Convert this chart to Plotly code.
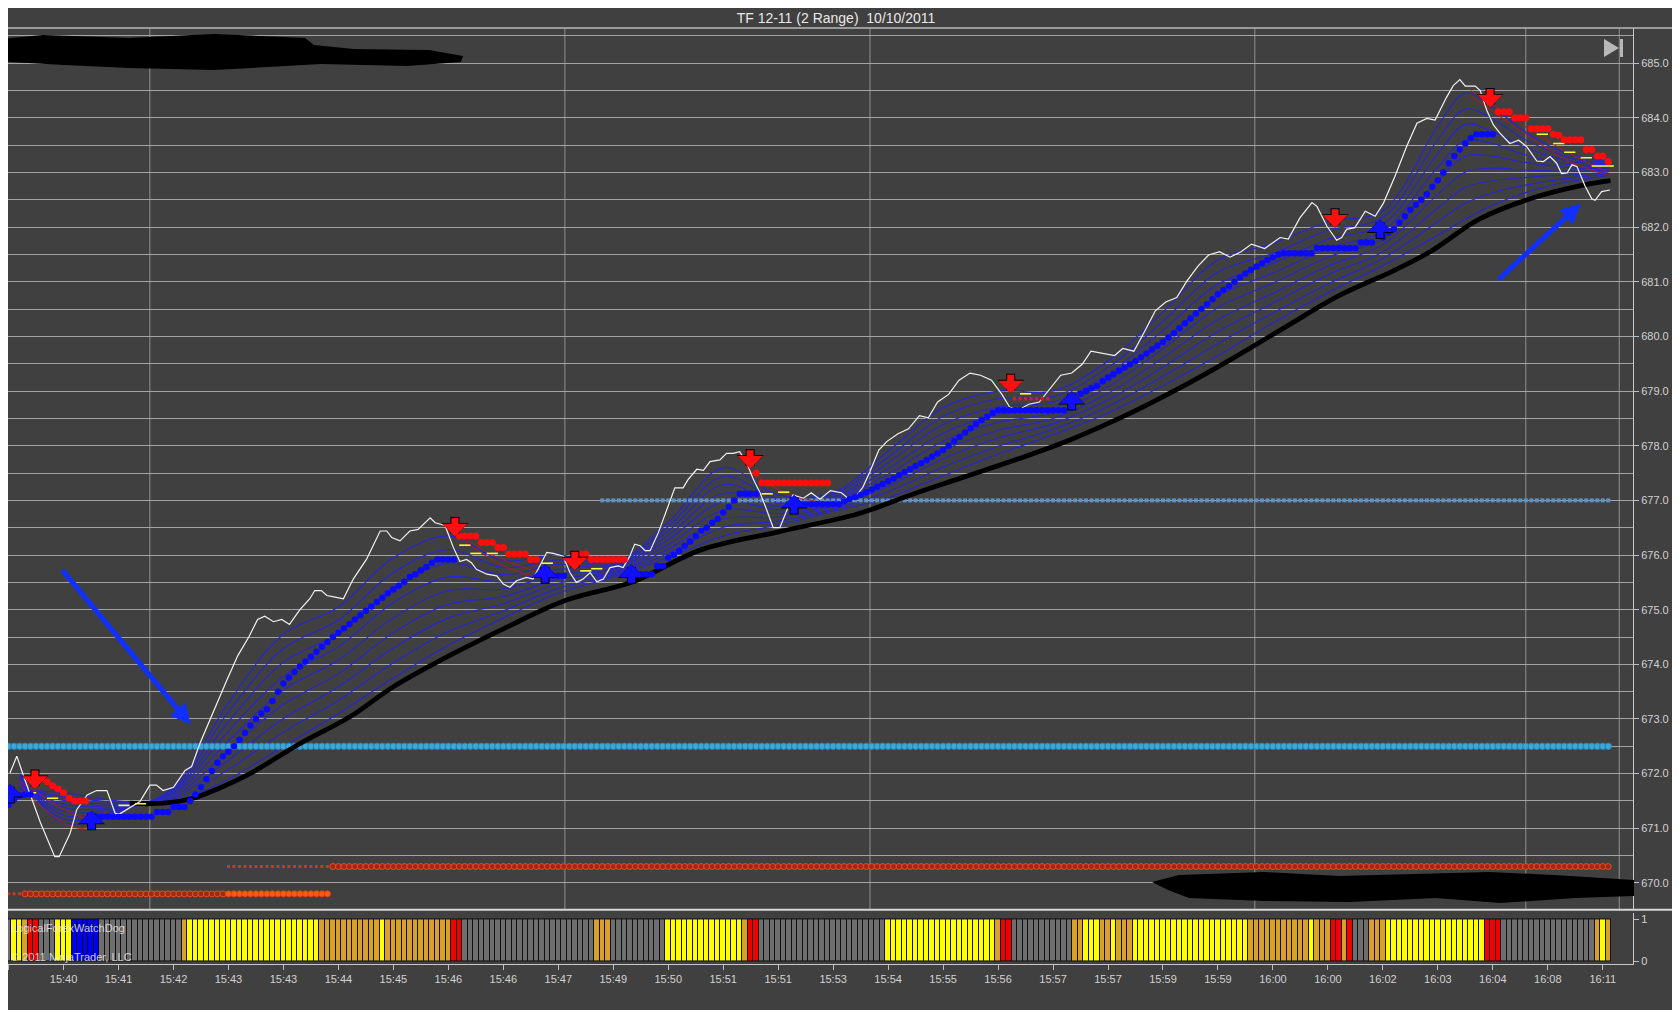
import plotly.graph_objects as go

# ---------------------------------------------------------------- text / axes
TITLE = "TF 12-11 (2 Range)  10/10/2011"
INDICATOR_NAME = "LogicalForexWatchDog"
COPYRIGHT = "© 2011 NinjaTrader, LLC"

TICK_BARS = [0, 10, 20, 30, 40, 50, 60, 70, 80, 90, 100, 110, 120, 130, 140,
             150, 160, 170, 180, 190, 200, 210, 220, 230, 240, 250, 260, 270, 280, 290]
TICK_TEXT = ["15:40", "15:40", "15:41", "15:42", "15:43", "15:43", "15:44", "15:45",
             "15:46", "15:46", "15:47", "15:49", "15:50", "15:51", "15:51", "15:53",
             "15:54", "15:55", "15:56", "15:57", "15:57", "15:59", "15:59", "16:00",
             "16:00", "16:02", "16:03", "16:04", "16:08", "16:11"]
VGRID_BARS = [25.7, 101.2, 156.7, 226.7, 276.0, 293.0]

# ---------------------------------------------------------------- price pane data (bar, price)
PRICE_LINE = [
    (0.25, 672.01), (1.5, 672.32), (3.0, 671.88), (5.8, 671.10), (8.4, 670.48), (9.2, 670.48),
    (11.2, 670.91), (12.4, 671.34), (14.3, 671.61), (16.0, 671.69), (17.9, 671.69), (19.4, 671.27),
    (20.3, 671.27), (23.9, 671.49), (25.7, 671.79), (26.9, 671.79), (28.1, 671.69), (30.0, 671.75),
    (32.1, 672.06), (33.3, 672.13), (34.8, 672.55), (37.3, 673.16), (39.7, 673.71), (41.7, 674.16),
    (43.7, 674.50), (45.3, 674.82), (46.6, 674.88), (48.2, 674.78), (49.7, 674.82), (51.1, 674.73),
    (53.0, 675.00), (54.8, 675.20), (55.7, 675.35), (56.9, 675.35), (57.9, 675.26), (59.4, 675.23),
    (60.9, 675.20), (62.7, 675.56), (65.1, 675.92), (67.6, 676.44), (68.8, 676.44), (69.7, 676.32),
    (71.2, 676.26), (73.0, 676.44), (74.5, 676.47), (76.7, 676.68), (77.6, 676.59), (79.4, 676.54),
    (80.9, 676.14), (82.1, 675.88), (83.3, 675.92), (84.2, 675.86), (85.1, 675.74), (87.0, 675.65),
    (88.8, 675.62), (90.0, 675.47), (91.2, 675.41), (92.4, 675.53), (94.2, 675.59), (95.4, 675.56),
    (96.7, 675.80), (97.9, 676.05), (99.1, 676.03), (100.9, 675.98), (102.1, 675.68), (103.3, 675.50),
    (104.5, 675.56), (105.8, 675.68), (107.0, 675.51), (108.2, 675.56), (109.4, 675.77), (110.9, 675.80),
    (111.8, 675.77), (113.0, 675.98), (113.9, 676.20), (114.9, 676.17), (115.8, 676.08), (116.7, 676.08),
    (118.2, 676.41), (119.7, 676.83), (121.2, 677.23), (122.7, 677.23), (123.6, 677.38), (125.2, 677.57),
    (126.4, 677.55), (127.6, 677.71), (129.4, 677.74), (130.6, 677.86), (131.8, 677.86), (133.0, 677.89),
    (134.3, 677.68), (135.5, 677.38), (136.7, 677.14), (137.9, 676.83), (139.1, 676.50), (140.3, 676.50),
    (142.7, 677.10), (144.6, 677.04), (146.0, 677.14), (147.6, 677.02), (149.5, 677.18), (151.5, 677.14),
    (153.4, 676.98), (155.4, 677.24), (156.7, 677.53), (158.3, 677.92), (159.8, 678.08), (161.8, 678.22),
    (163.7, 678.31), (165.7, 678.55), (167.3, 678.51), (169.0, 678.80), (171.0, 678.94), (172.9, 679.20),
    (174.9, 679.33), (176.8, 679.29), (178.8, 679.20), (180.7, 678.94), (182.1, 678.71), (183.6, 678.65),
    (185.6, 678.76), (187.5, 678.80), (189.5, 679.06), (191.4, 679.29), (193.4, 679.33), (195.3, 679.49),
    (196.9, 679.73), (199.2, 679.69), (201.2, 679.65), (202.7, 679.78), (204.7, 679.73), (206.6, 680.08),
    (208.6, 680.47), (210.5, 680.63), (212.5, 680.71), (214.4, 681.02), (216.4, 681.29), (218.3, 681.49),
    (220.3, 681.55), (222.2, 681.45), (224.2, 681.55), (226.1, 681.69), (228.5, 681.61), (231.3, 681.81),
    (232.8, 681.78), (234.9, 682.17), (237.1, 682.45), (238.0, 682.38), (239.8, 682.02), (241.6, 681.76),
    (242.5, 681.81), (243.4, 681.96), (244.9, 681.99), (246.8, 682.29), (248.6, 682.20), (250.1, 682.44),
    (252.2, 682.93), (254.3, 683.47), (256.2, 683.90), (258.0, 683.99), (259.5, 683.96), (261.6, 684.38),
    (262.8, 684.59), (264.0, 684.70), (265.0, 684.58), (266.8, 684.58), (267.7, 684.50), (268.9, 684.14),
    (270.1, 683.87), (271.3, 683.72), (273.1, 683.53), (274.7, 683.59), (276.2, 683.47), (278.0, 683.21),
    (279.2, 683.20), (280.4, 683.29), (281.6, 683.17), (282.5, 682.98), (283.5, 682.99), (284.4, 683.14),
    (285.3, 683.11), (286.8, 682.75), (288.0, 682.52), (288.6, 682.49), (289.8, 682.65), (291.3, 682.68),
]

BLACK_LINE = [
    (22.0, 671.46), (26.0, 671.45), (30.0, 671.48), (33.6, 671.55), (38.0, 671.72),
    (43.9, 672.00), (53.0, 672.55), (62.1, 673.04), (70.0, 673.59), (80.0, 674.15), (90.0, 674.65),
    (101.6, 675.18), (113.6, 675.51), (125.8, 676.09), (140.3, 676.43), (154.4, 676.75), (164.1, 677.10),
    (173.9, 677.43), (183.7, 677.76), (193.4, 678.12), (203.1, 678.55), (212.9, 679.05), (222.7, 679.60),
    (232.4, 680.18), (242.1, 680.75), (251.9, 681.20), (258.6, 681.55), (267.6, 682.15), (276.8, 682.52),
    (286.0, 682.76), (291.4, 682.85),
]

# the thin blue moving-average fan, one row per sampled bar, nine lines each
FAN_BARS = [2, 10, 20, 30, 40, 50, 60, 70, 80, 90, 100, 110, 120, 130, 140, 150, 160,
            170, 180, 190, 200, 210, 220, 230, 240, 250, 260, 265, 270, 275, 280, 285, 291]
FAN_ROWS = [
    [672.00, 671.96, 671.93, 671.89, 671.85, 671.81, 671.78, 671.74, 671.70],
    [671.10, 671.17, 671.24, 671.31, 671.38, 671.44, 671.51, 671.58, 671.65],
    [671.30, 671.33, 671.35, 671.38, 671.40, 671.43, 671.45, 671.48, 671.50],
    [671.75, 671.72, 671.69, 671.66, 671.63, 671.59, 671.56, 671.53, 671.50],
    [673.30, 673.13, 672.95, 672.78, 672.60, 672.43, 672.25, 672.08, 671.90],
    [674.55, 674.29, 674.04, 673.78, 673.53, 673.27, 673.01, 672.76, 672.50],
    [675.05, 674.81, 674.56, 674.32, 674.08, 673.83, 673.59, 673.34, 673.10],
    [675.95, 675.68, 675.40, 675.13, 674.85, 674.58, 674.30, 674.03, 673.75],
    [676.35, 676.10, 675.85, 675.60, 675.35, 675.10, 674.85, 674.60, 674.35],
    [675.90, 675.77, 675.64, 675.51, 675.38, 675.24, 675.11, 674.98, 674.85],
    [676.00, 675.91, 675.83, 675.74, 675.65, 675.56, 675.48, 675.39, 675.30],
    [675.85, 675.82, 675.79, 675.76, 675.73, 675.69, 675.66, 675.63, 675.60],
    [676.60, 676.52, 676.44, 676.36, 676.28, 676.19, 676.11, 676.03, 675.95],
    [677.60, 677.44, 677.29, 677.13, 676.98, 676.82, 676.66, 676.51, 676.35],
    [677.10, 677.03, 676.96, 676.89, 676.83, 676.76, 676.69, 676.62, 676.55],
    [677.15, 677.11, 677.06, 677.02, 676.98, 676.93, 676.89, 676.84, 676.80],
    [677.90, 677.79, 677.69, 677.58, 677.48, 677.37, 677.26, 677.16, 677.05],
    [678.70, 678.54, 678.39, 678.23, 678.08, 677.92, 677.76, 677.61, 677.45],
    [679.00, 678.86, 678.71, 678.57, 678.43, 678.28, 678.14, 677.99, 677.85],
    [679.00, 678.90, 678.80, 678.70, 678.60, 678.50, 678.40, 678.30, 678.20],
    [679.55, 679.43, 679.31, 679.19, 679.08, 678.96, 678.84, 678.72, 678.60],
    [680.45, 680.28, 680.11, 679.94, 679.78, 679.61, 679.44, 679.27, 679.10],
    [681.40, 681.18, 680.96, 680.74, 680.53, 680.31, 680.09, 679.87, 679.65],
    [681.70, 681.52, 681.34, 681.16, 680.98, 680.79, 680.61, 680.43, 680.25],
    [682.10, 681.94, 681.78, 681.61, 681.45, 681.29, 681.13, 680.96, 680.80],
    [682.30, 682.18, 682.05, 681.93, 681.80, 681.68, 681.55, 681.43, 681.30],
    [683.85, 683.60, 683.35, 683.10, 682.85, 682.60, 682.35, 682.10, 681.85],
    [684.45, 684.16, 683.88, 683.59, 683.30, 683.01, 682.73, 682.44, 682.15],
    [684.20, 683.98, 683.75, 683.53, 683.30, 683.08, 682.85, 682.63, 682.40],
    [683.80, 683.65, 683.50, 683.35, 683.20, 683.05, 682.90, 682.75, 682.60],
    [683.50, 683.41, 683.31, 683.22, 683.13, 683.03, 682.94, 682.84, 682.75],
    [683.30, 683.24, 683.19, 683.13, 683.08, 683.02, 682.96, 682.91, 682.85],
    [683.20, 683.17, 683.14, 683.11, 683.08, 683.04, 683.01, 682.98, 682.95],
]

RED_FAN_LINES = [
    [(2, 671.85), (6, 671.60), (10, 671.35), (14, 671.20), (18, 671.30)],
    [(2, 671.80), (6, 671.40), (10, 671.10), (13, 671.00), (16, 671.05)],
    [(80, 676.50), (88, 676.00), (96, 675.70), (100, 675.60)],
    [(81, 676.40), (90, 675.80), (98, 675.55)],
    [(134, 677.60), (140, 677.20), (146, 677.00), (150, 676.95)],
    [(266, 684.50), (275, 683.90), (283, 683.40), (291, 683.00)],
    [(266, 684.40), (276, 683.70), (284, 683.20), (291, 682.95)],
]

# trailing-stop dots: first bar -> one value per bar
BLUE_DOTS = {
    0: [671.43, 671.53, 671.60, 671.62, 671.62],
    15: [671.21] * 12 + [671.30] * 3 + [671.39] * 3 + [
        671.50, 671.62, 671.75, 671.90, 672.05, 672.20, 672.32, 672.40, 672.50, 672.62,
        672.75, 672.88, 673.00, 673.10, 673.18, 673.33, 673.50, 673.65, 673.76, 673.86,
        673.96, 674.05, 674.14, 674.23, 674.32, 674.41, 674.50, 674.58, 674.66, 674.74,
        674.82, 674.90, 674.98, 675.06, 675.14, 675.22, 675.30, 675.37, 675.44, 675.51,
        675.60, 675.65, 675.72, 675.78, 675.86, 675.92, 675.92, 675.92, 675.92],
    98: [675.62] * 4,
    113: [675.65] * 5 + [675.80, 675.80, 675.95, 676.00, 676.08, 676.17, 676.25, 676.35,
                         676.45, 676.50, 676.59, 676.66, 676.78, 676.88, 677.00] + [677.12] * 4,
    143: [676.93] * 9 + [676.98, 677.02, 677.06, 677.10, 677.15, 677.20, 677.25, 677.30,
                         677.35, 677.40, 677.46, 677.52, 677.57, 677.63, 677.68, 677.74,
                         677.80, 677.86, 677.92, 678.00, 678.08, 678.16, 678.24, 678.32,
                         678.40, 678.47, 678.53, 678.60] + [678.65] * 13,
    194: [678.85, 678.95, 679.00, 679.05, 679.10, 679.18, 679.25, 679.31, 679.37, 679.43,
          679.49, 679.55, 679.62, 679.69, 679.76, 679.83, 679.90, 679.98, 680.06, 680.15,
          680.24, 680.33, 680.42, 680.50, 680.59, 680.68, 680.77, 680.85, 680.92, 681.00,
          681.08, 681.15, 681.22, 681.28, 681.34, 681.40, 681.45, 681.50]
         + [681.52] * 6 + [681.62] * 8 + [681.72] * 3,
    250: [681.81, 681.90, 681.96, 682.08, 682.20, 682.32, 682.41, 682.50, 682.60, 682.74,
          682.86, 683.00, 683.17, 683.30, 683.42, 683.53, 683.63, 683.70, 683.70, 683.70, 683.70],
}
RED_DOTS = {
    5: [671.92, 671.90, 671.85, 671.78, 671.72, 671.65, 671.55, 671.50, 671.50, 671.50],
    82: [676.35, 676.35, 676.35, 676.35, 676.23, 676.23, 676.23, 676.14, 676.14,
         676.02, 676.02, 676.02, 676.02, 675.92, 675.92],
    103: [676.02, 676.02, 676.02] + [675.92] * 7,
    136: [677.50] + [677.32] * 13,
    271: [684.11, 684.11, 684.11, 684.00, 684.00, 684.00, 683.80, 683.80, 683.80, 683.80,
          683.70, 683.68, 683.60, 683.60, 683.60, 683.60, 683.42, 683.42, 683.30, 683.30, 683.20],
}
SMALL_RED_DOTS = {183: [678.86] * 7}

YELLOW_DASHES = [(4, 671.65), (8, 671.55), (21, 671.42), (24, 671.45), (83, 676.18), (85, 676.03),
                 (88, 676.03), (98, 675.85), (105, 675.71), (107, 675.75), (138, 677.12),
                 (141, 677.15), (185, 678.95), (279, 683.70), (282, 683.53), (284, 683.37),
                 (287, 683.27), (289, 683.12), (291, 683.12)]

# signal arrows: (bar, price of the arrow tip)
SIGNAL_DOWN = [(4.8, 671.72), (81.2, 676.34), (103.0, 675.72), (134.9, 677.58),
               (182.3, 678.96), (241.3, 681.99), (269.5, 684.19)]
SIGNAL_UP = [(0.3, 671.81), (15.1, 671.32), (97.6, 675.83), (113.3, 675.83),
             (142.9, 677.10), (193.4, 679.00), (249.5, 682.14)]

# hand drawn arrows: (tail bar, tail price), (tip bar, tip price)
NOTE_ARROWS = [((9.55, 675.75), (33.1, 672.90)), ((270.8, 681.02), (286.0, 682.43))]

# horizontal levels: price, bar spans
LEVEL_CYAN = (672.5, 0, 291)
LEVEL_STEEL = (677.0, 108, 291)
LEVEL_RED_UPPER = (670.3, 40, 59, 291)        # small dots from, rings from, last bar
LEVEL_RED_LOWER = (669.8, 0, 3, 40, 58)       # small dots from, rings from, filled from, last bar

# ---------------------------------------------------------------- lower pane (state per bar, run lengths)
SIGNAL_RUNS = [("G", 1), ("Y", 2), ("O", 1), ("R", 2), ("G", 3), ("Y", 3), ("B", 5), ("G", 15),
               ("O", 1), ("Y", 24), ("O", 11), ("Y", 1), ("O", 12), ("R", 2), ("G", 24), ("O", 3),
               ("G", 10), ("Y", 14), ("O", 1), ("R", 2), ("G", 23), ("Y", 20), ("O", 1), ("R", 2),
               ("G", 11), ("O", 2), ("Y", 3), ("O", 2), ("Y", 1), ("O", 3), ("Y", 21), ("O", 11),
               ("Y", 1), ("O", 3), ("R", 2), ("O", 1), ("R", 1), ("G", 3), ("O", 3), ("Y", 18),
               ("R", 3), ("G", 17), ("O", 1), ("Y", 1), ("O", 1)]
STATE_COLORS = {"G": "#6e6e6e", "Y": "#ffff00", "O": "#d8a02c", "R": "#f00000", "B": "#0000f0"}

# ---------------------------------------------------------------- page geometry
# the page body keeps its default 8px margin, so the figure is drawn 8px smaller
# and all page-pixel positions below are shifted by that margin
PAGE_W, PAGE_H, BODY = 1680, 1010, 8
FIG_W, FIG_H = PAGE_W - BODY, PAGE_H - BODY
PLOT_L, PLOT_R, PLOT_T, PLOT_B = 8, 1633, 28, 964     # page pixels
X_RANGE = [-0.104, 295.5]
BG = "#404040"
FONT = "Liberation Sans, Arial, sans-serif"
TXT = "#d2d2d2"

REDACT_TOP = [(0, 39), (43, 35), (129, 38), (214, 34), (305, 38), (314, 45), (354, 49), (429, 50),
              (463, 56), (461, 62), (407, 66), (321, 64), (214, 70), (129, 68), (64, 65), (11, 62), (0, 60)]
REDACT_BOTTOM = [(1152, 882), (1179, 875), (1264, 872), (1339, 876), (1414, 874), (1489, 872),
                 (1554, 875), (1634, 880), (1634, 896), (1575, 898), (1500, 903), (1436, 898),
                 (1350, 902), (1264, 901), (1189, 898), (1168, 890)]


def toPaper(px, py):
    return (px - PLOT_L) / (PLOT_R - PLOT_L), (PLOT_B - py) / (PLOT_B - PLOT_T)


def pathFromPixels(points):
    parts = []
    for i, (px, py) in enumerate(points):
        x, y = toPaper(px, py)
        parts.append(("M" if i == 0 else "L") + "%.5f,%.5f" % (x, y))
    return " ".join(parts) + " Z"


def expandDots(segments):
    xs, ys = [], []
    for start, vals in segments.items():
        for i, v in enumerate(vals):
            xs.append(start + i)
            ys.append(v)
    return xs, ys


def lineTrace(points, color, width, shape="linear"):
    return go.Scatter(x=[p[0] for p in points], y=[p[1] for p in points], mode="lines",
                      line=dict(color=color, width=width, shape=shape),
                      hoverinfo="skip", showlegend=False)


def levelTrace(price, first, last, marker):
    bars = list(range(first, last + 1))
    return go.Scatter(x=bars, y=[price] * len(bars), mode="markers", marker=marker,
                      hoverinfo="skip", showlegend=False)


fig = go.Figure()

# lower pane state bars
states = []
for code, n in SIGNAL_RUNS:
    states += [code] * n
fig.add_trace(go.Bar(x=list(range(len(states))), y=[1] * len(states), base=0, width=1.0,
                     marker=dict(color=[STATE_COLORS[s] for s in states], line=dict(color="#101010", width=1)),
                     yaxis="y2", hoverinfo="skip", showlegend=False))

# blue fan
for k in range(len(FAN_ROWS[0])):
    pts = [(b, row[k]) for b, row in zip(FAN_BARS, FAN_ROWS)]
    fig.add_trace(lineTrace(pts, "rgba(36,36,215,1)", 1.1, "spline"))

# horizontal dotted levels
ringRed = dict(symbol="circle", size=6, color="#9c2a14", line=dict(color="#f04a22", width=1))
smallRed = dict(symbol="square", size=3, color="#c83a22")
fig.add_trace(levelTrace(LEVEL_CYAN[0], LEVEL_CYAN[1], LEVEL_CYAN[2],
                         dict(symbol="circle", size=6.5, color="#3ba8d8", line=dict(color="#2a80b0", width=1))))
fig.add_trace(levelTrace(LEVEL_STEEL[0], LEVEL_STEEL[1], LEVEL_STEEL[2],
                         dict(symbol="square", size=4, color="#5f90c2")))
fig.add_trace(levelTrace(LEVEL_RED_UPPER[0], LEVEL_RED_UPPER[1], LEVEL_RED_UPPER[2] - 1, smallRed))
fig.add_trace(levelTrace(LEVEL_RED_UPPER[0], LEVEL_RED_UPPER[2], LEVEL_RED_UPPER[3], ringRed))
fig.add_trace(levelTrace(LEVEL_RED_LOWER[0], LEVEL_RED_LOWER[1], LEVEL_RED_LOWER[2] - 1, smallRed))
fig.add_trace(levelTrace(LEVEL_RED_LOWER[0], LEVEL_RED_LOWER[2], LEVEL_RED_LOWER[3] - 1, ringRed))
fig.add_trace(levelTrace(LEVEL_RED_LOWER[0], LEVEL_RED_LOWER[3], LEVEL_RED_LOWER[4],
                         dict(symbol="circle", size=6, color="#ff5a14", line=dict(color="#e84010", width=1))))

# slow average, red fan pieces, price
fig.add_trace(lineTrace(BLACK_LINE, "#000000", 4.8, "spline"))
for seg in RED_FAN_LINES:
    fig.add_trace(lineTrace(seg, "#b01c1c", 1, "spline"))
fig.add_trace(lineTrace(PRICE_LINE, "#f2f2f2", 1.2))

fig.add_trace(go.Scatter(x=[p[0] for p in YELLOW_DASHES], y=[p[1] for p in YELLOW_DASHES], mode="markers",
                         marker=dict(symbol="line-ew", size=8, line=dict(color="#ffff30", width=1.6)),
                         hoverinfo="skip", showlegend=False))

bx, by = expandDots(BLUE_DOTS)
fig.add_trace(go.Scatter(x=bx, y=by, mode="markers", marker=dict(symbol="circle", size=6.5, color="#0a0aff"),
                         hoverinfo="skip", showlegend=False))
rx, ry = expandDots(RED_DOTS)
fig.add_trace(go.Scatter(x=rx, y=ry, mode="markers", marker=dict(symbol="circle", size=7, color="#ff0c0c"),
                         hoverinfo="skip", showlegend=False))
sx, sy = expandDots(SMALL_RED_DOTS)
fig.add_trace(go.Scatter(x=sx, y=sy, mode="markers", marker=dict(symbol="square", size=3.5, color="#e01818"),
                         hoverinfo="skip", showlegend=False))

# ---------------------------------------------------------------- annotations
notes = []
for (tb, tp), (hb, hp) in NOTE_ARROWS:
    notes.append(dict(x=hb, y=hp, ax=tb, ay=tp, xref="x", yref="y", axref="x", ayref="y", text="",
                      showarrow=True, arrowhead=2, arrowsize=0.8, arrowwidth=5, arrowcolor="#1030ff"))


def signalArrow(bar, price, up, color):
    direction = 1 if up else -1
    out = []
    out.append(dict(x=bar, y=price, xref="x", yref="y", ax=0, ay=21 * direction, text="",
                    showarrow=True, arrowhead=1, arrowsize=0.5, arrowwidth=9, arrowcolor="#000000"))
    out.append(dict(x=bar, y=price, xref="x", yref="y", ax=0, ay=20 * direction, text="",
                    showarrow=True, arrowhead=1, arrowsize=0.6, arrowwidth=7, arrowcolor=color))
    return out


for b, p in SIGNAL_DOWN:
    notes += signalArrow(b, p, False, "#ff1010")
for b, p in SIGNAL_UP:
    notes += signalArrow(b, p, True, "#1010ff")

nx, ny = toPaper(9, 928)
notes.append(dict(x=nx, y=ny, xref="paper", yref="paper", text=INDICATOR_NAME, showarrow=False,
                  xanchor="left", yanchor="middle", font=dict(family=FONT, size=11, color="rgba(235,235,235,0.85)")))
cx, cy = toPaper(9, 957)
notes.append(dict(x=cx, y=cy, xref="paper", yref="paper", text=COPYRIGHT, showarrow=False,
                  xanchor="left", yanchor="middle", font=dict(family=FONT, size=11, color="rgba(235,235,235,0.85)")))

# ---------------------------------------------------------------- shapes
shapes = []
for b in VGRID_BARS:
    shapes.append(dict(type="line", xref="x", yref="paper", x0=b, x1=b, y0=0.058, y1=1,
                       line=dict(color="#8e8e8e", width=1), layer="below"))
x0p, _ = toPaper(0, 0)
x1p, _ = toPaper(PAGE_W, 0)
shapes.append(dict(type="line", xref="paper", yref="paper", x0=x0p, x1=x1p, y0=1, y1=1,
                   line=dict(color="#b8b8b8", width=1.5)))
shapes.append(dict(type="line", xref="paper", yref="paper", x0=x0p, x1=x1p, y0=0.058, y1=0.058,
                   line=dict(color="#d6d6d6", width=2)))
shapes.append(dict(type="path", xref="paper", yref="paper", path=pathFromPixels(REDACT_TOP),
                   fillcolor="#000000", line=dict(width=0)))
shapes.append(dict(type="path", xref="paper", yref="paper", path=pathFromPixels(REDACT_BOTTOM),
                   fillcolor="#000000", line=dict(width=0)))
shapes.append(dict(type="path", xref="paper", yref="paper",
                   path=pathFromPixels([(1604, 39), (1604, 57), (1619, 48)]),
                   fillcolor="#b8b8b8", line=dict(width=0)))
shapes.append(dict(type="path", xref="paper", yref="paper",
                   path=pathFromPixels([(1620, 39), (1623, 39), (1623, 57), (1620, 57)]),
                   fillcolor="#b8b8b8", line=dict(width=0)))

fig.update_layout(
    width=FIG_W, height=FIG_H, autosize=False,
    margin=dict(l=PLOT_L - BODY, r=PAGE_W - PLOT_R, t=PLOT_T - BODY, b=PAGE_H - PLOT_B, pad=0),
    paper_bgcolor=BG, plot_bgcolor=BG,
    font=dict(family=FONT, size=11, color=TXT),
    title=dict(text=TITLE, x=(836 - BODY) / FIG_W, y=1 - (18 - BODY) / FIG_H, xanchor="center", yanchor="middle",
               font=dict(family=FONT, size=14, color="#e8e8e8")),
    showlegend=False, bargap=0, hovermode=False,
    xaxis=dict(domain=[0, 1], anchor="y2", range=X_RANGE, tickvals=TICK_BARS, ticktext=TICK_TEXT,
               ticks="outside", ticklen=5, tickcolor="#c0c0c0", showgrid=False, zeroline=False,
               showline=True, linecolor="#c8c8c8", linewidth=1,
               tickfont=dict(family=FONT, size=11, color=TXT)),
    yaxis=dict(domain=[0.058, 1], anchor="x", side="right", range=[669.51, 685.644],
               dtick=1, tick0=0, tickformat=".1f", ticks="outside", ticklen=5, tickcolor="#c0c0c0",
               showgrid=True, gridcolor="#a4a4a4", gridwidth=1, zeroline=False,
               minor=dict(dtick=0.5, tick0=0, showgrid=True, gridcolor="#a4a4a4", gridwidth=1),
               showline=True, linecolor="#c8c8c8", linewidth=1,
               tickfont=dict(family=FONT, size=11, color=TXT)),
    yaxis2=dict(domain=[0, 0.054], anchor="x", side="right", range=[-0.07, 1.14],
                tickvals=[0, 1], ticktext=["0", "1"], ticks="outside", ticklen=5, tickcolor="#c0c0c0",
                showgrid=False, zeroline=False, showline=True, linecolor="#c8c8c8",
                tickfont=dict(family=FONT, size=11, color=TXT)),
    annotations=notes,
    shapes=shapes,
)

fig.write_html("out.html")
